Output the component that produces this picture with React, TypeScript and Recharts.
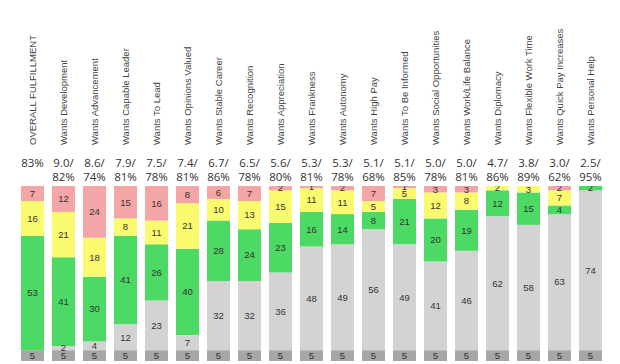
import React from 'react';
import { BarChart, Bar, XAxis, YAxis, LabelList } from 'recharts';

const categories = [
  'OVERALL FULFILLMENT', 'Wants Development', 'Wants Advancement', 'Wants Capable Leader',
  'Wants To Lead', 'Wants Opinions Valued', 'Wants Stable Career', 'Wants Recognition',
  'Wants Appreciation', 'Wants Frankness', 'Wants Autonomy', 'Wants High Pay',
  'Wants To Be Informed', 'Wants Social Opportunities', 'Wants Work/Life Balance',
  'Wants Diplomacy', 'Wants Flexible Work Time', 'Wants Quick Pay Increases', 'Wants Personal Help',
];
const scoreTop = ['83%', '9.0/', '8.6/', '7.9/', '7.5/', '7.4/', '6.7/', '6.5/', '5.6/', '5.3/', '5.3/', '5.1/', '5.1/', '5.0/', '5.0/', '4.7/', '3.8/', '3.0/', '2.5/'];
const scoreBottom = ['', '82%', '74%', '81%', '78%', '81%', '86%', '78%', '80%', '81%', '78%', '68%', '85%', '78%', '81%', '86%', '89%', '62%', '95%'];
const baseValues = [5, 5, 5, 5, 5, 5, 5, 5, 5, 5, 5, 5, 5, 5, 5, 5, 5, 5, 5];
const neutralValues = [0, 2, 4, 12, 23, 7, 32, 32, 36, 48, 49, 56, 49, 41, 46, 62, 58, 63, 74];
const positiveValues = [53, 41, 30, 41, 26, 40, 28, 24, 23, 16, 14, 8, 21, 20, 19, 12, 15, 4, 2];
const mixedValues = [16, 21, 18, 8, 11, 21, 10, 13, 15, 11, 11, 5, 5, 12, 8, 2, 3, 7, 0];
const negativeValues = [7, 12, 24, 15, 16, 8, 6, 7, 2, 1, 2, 7, 1, 3, 3, 0, 0, 2, 0];

const data = categories.map((name, i) => ({
  name,
  base: baseValues[i],
  neutral: neutralValues[i],
  positive: positiveValues[i],
  mixed: mixedValues[i],
  negative: negativeValues[i],
}));

const HeaderTick = (props: any) => {
  const { x, y, payload } = props;
  const i = payload.index;
  const hy = y - 41;
  return (
    <g>
      {i === 0 && (
        <defs>
          <clipPath id="plotClip">
            <rect x={0} y={y} width={700} height={400} />
          </clipPath>
        </defs>
      )}
      <text
        x={x}
        y={hy}
        dy="0.35em"
        textAnchor="start"
        transform={`rotate(-90, ${x}, ${hy})`}
        fontFamily="'Liberation Sans', Arial, sans-serif"
        fontSize={9.5}
        fill="#444"
      >
        {payload.value}
      </text>
      <text x={x} y={y - 19} textAnchor="middle" fontFamily="'Open Sans', sans-serif" fontSize={11.5} fill="#333">
        {scoreTop[i]}
      </text>
      <text x={x} y={y - 5} textAnchor="middle" fontFamily="'Open Sans', sans-serif" fontSize={11.5} fill="#333">
        {scoreBottom[i]}
      </text>
    </g>
  );
};

const SegLabel = (props: any) => {
  const { x, y, width, height, value } = props;
  if (!value) return null;
  return (
    <text
      x={x + width / 2}
      y={y + height / 2}
      dy="0.35em"
      textAnchor="middle"
      fontFamily="'Liberation Sans', Arial, sans-serif"
      fontSize={9.5}
      fill="#333"
      clipPath="url(#plotClip)"
    >
      {value}
    </text>
  );
};

const series = [
  { key: 'base', color: '#a6a6a6' },
  { key: 'neutral', color: '#d3d3d3' },
  { key: 'positive', color: '#4cd964' },
  { key: 'mixed', color: '#fafa6e' },
  { key: 'negative', color: '#f4a5a5' },
];

export default function App() {
  return (
    <div style={{ position: 'absolute', left: 0, top: 0, background: '#fff' }}>
      <BarChart width={620} height={364} data={data} margin={{ top: 0, right: 14, left: 17, bottom: 3 }}>
        <XAxis
          dataKey="name"
          orientation="top"
          height={186}
          interval={0}
          axisLine={false}
          tickLine={false}
          tickSize={0}
          tickMargin={0}
          tick={<HeaderTick />}
        />
        <YAxis hide domain={[0, 81]} />
        {series.map((s) => (
          <Bar key={s.key} dataKey={s.key} stackId="a" fill={s.color} barSize={23} isAnimationActive={false}>
            <LabelList dataKey={s.key} content={<SegLabel />} />
          </Bar>
        ))}
      </BarChart>
    </div>
  );
}
